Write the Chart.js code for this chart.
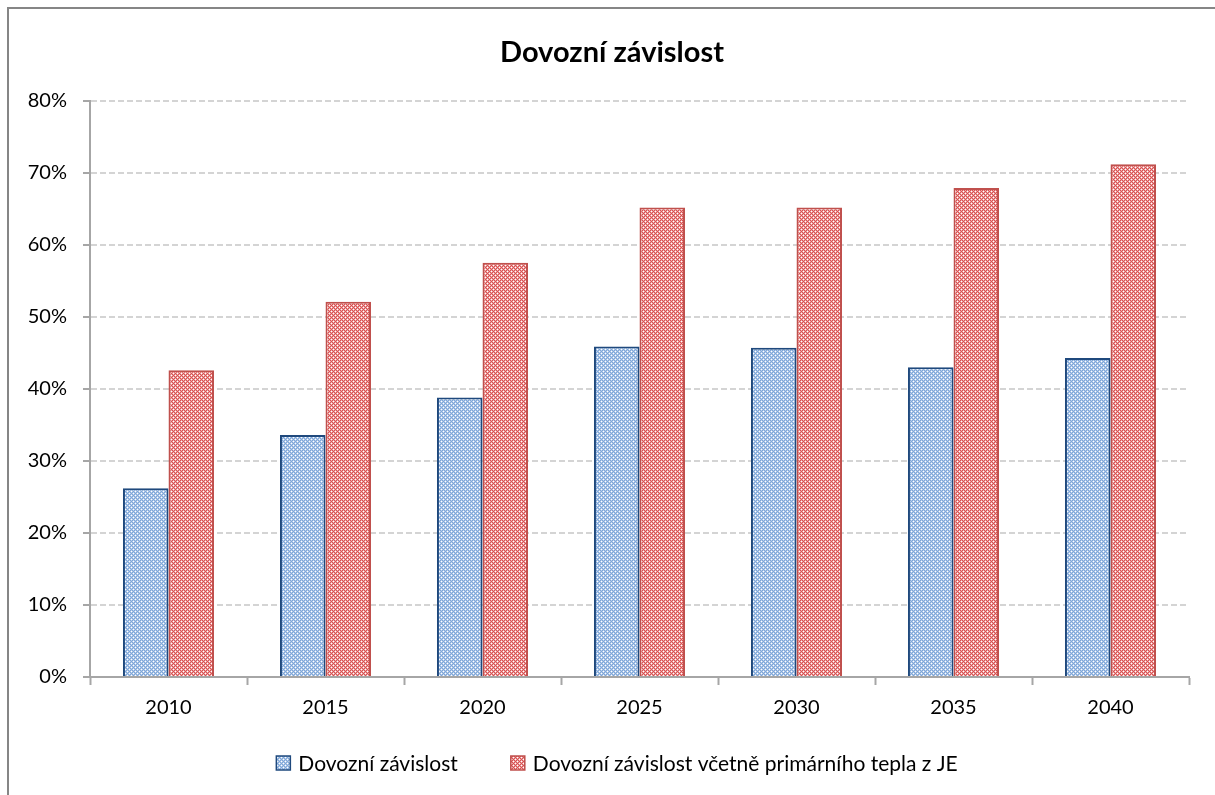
<!DOCTYPE html>
<html>
<head>
<meta charset="utf-8">
<title>Dovozní závislost</title>
<script src="https://cdn.jsdelivr.net/npm/chart.js@4/dist/chart.umd.min.js"></script>
<style>
  html, body { margin: 0; padding: 0; background: #fff; }
  #wrap { width: 1215px; height: 795px; position: relative; }
</style>
</head>
<body>
<div id="wrap"><canvas id="myChart"></canvas></div>
<script>
var years = ['2010', '2015', '2020', '2025', '2030', '2035', '2040'];
var dovozni = [26.2, 33.6, 38.8, 45.9, 45.7, 43.0, 44.3];
var dovozniJE = [42.6, 52.1, 57.5, 65.2, 65.2, 67.9, 71.2];
var seriesNames = ['Dovozní závislost', 'Dovozní závislost včetně primárního tepla z JE'];
var chartTitle = 'Dovozní závislost';
var yMax = 80;
var yStep = 10;

function makePattern(base, dot, light) {
  var c = document.createElement('canvas');
  c.width = 4;
  c.height = 4;
  var g = c.getContext('2d');
  g.fillStyle = base;
  g.fillRect(0, 0, 4, 4);
  g.fillStyle = dot;
  for (var y = 0; y < 4; y++) {
    for (var x = 0; x < 4; x++) {
      if ((x + y) % 2 === 0) g.fillRect(x, y, 1, 1);
    }
  }
  g.fillStyle = light;
  g.fillRect(1, 1, 1, 1);
  g.fillRect(3, 3, 1, 1);
  return document.getElementById('myChart').getContext('2d').createPattern(c, 'repeat');
}

// gray frame round the whole chart
var framePlugin = {
  id: 'frame',
  beforeDraw: function (chart) {
    var ctx = chart.ctx;
    ctx.save();
    ctx.strokeStyle = '#868686';
    ctx.lineWidth = 2;
    ctx.strokeRect(8, 8, 1400, 1000);
    ctx.restore();
  }
};

// legend drawn by hand so the spacing matches the original
var legendPlugin = {
  id: 'boxLegend',
  afterDraw: function (chart) {
    var ctx = chart.ctx;
    var box = 14, gapText = 8, gapItem = 53;
    ctx.save();
    ctx.font = '21px Lato';
    var widths = chart.data.datasets.map(function (ds) {
      return box + gapText + ctx.measureText(ds.label).width;
    });
    var total = widths[0] + gapItem + widths[1];
    var x = 617 - total / 2;
    var y = 763;
    chart.data.datasets.forEach(function (ds, i) {
      ctx.fillStyle = ds.backgroundColor;
      ctx.fillRect(x, y - box / 2, box, box);
      ctx.strokeStyle = ds.borderColor;
      ctx.lineWidth = 1.5;
      ctx.strokeRect(x, y - box / 2, box, box);
      ctx.fillStyle = '#000';
      ctx.textAlign = 'left';
      ctx.textBaseline = 'middle';
      ctx.fillText(ds.label, x + box + gapText, y + 1);
      x += widths[i] + gapItem;
    });
    ctx.restore();
  }
};

function drawChart() {
  Chart.defaults.font.family = 'Lato';
  Chart.defaults.color = '#000';

  const ctx = document.getElementById('myChart').getContext('2d');
  const myChart = new Chart(ctx, {
    type: 'bar',
    data: {
      labels: years,
      datasets: [{
        label: seriesNames[0],
        data: dovozni,
        backgroundColor: makePattern('#b3cbea', '#7ea6d8', '#ffffff'),
        borderColor: '#1f497d',
        borderWidth: 2
      }, {
        label: seriesNames[1],
        data: dovozniJE,
        backgroundColor: makePattern('#efa3a3', '#d65252', '#ffffff'),
        borderColor: '#c0504d',
        borderWidth: 2
      }]
    },
    options: {
      responsive: true,
      maintainAspectRatio: false,
      animation: false,
      layout: { padding: { left: 9, right: 0, top: 0, bottom: 0 } },
      datasets: { bar: { categoryPercentage: 0.58, barPercentage: 1.0 } },
      plugins: {
        legend: { display: false },
        tooltip: { enabled: false },
        title: {
          display: true,
          text: chartTitle,
          color: '#000',
          font: { size: 29, weight: 'bold' },
          padding: { top: 35, bottom: 31 }
        }
      },
      scales: {
        x: {
          afterFit: function (scale) { scale.height = 118; },
          grid: {
            display: true,
            offset: true,
            drawOnChartArea: false,
            drawTicks: true,
            tickLength: 8,
            tickColor: '#a6a6a6',
            tickWidth: 2
          },
          border: { display: true, color: '#a6a6a6', width: 2 },
          ticks: { font: { size: 20 }, padding: 11, color: '#000' }
        },
        y: {
          min: 0,
          max: yMax,
          afterFit: function (scale) { scale.width = 81; },
          grid: {
            color: '#d4d4d4',
            lineWidth: 2,
            drawTicks: true,
            tickLength: 7,
            tickColor: '#a6a6a6',
            tickWidth: 2
          },
          border: { display: true, color: '#a6a6a6', width: 2, dash: [6, 3] },
          ticks: {
            stepSize: yStep,
            padding: 16,
            font: { size: 20 },
            color: '#000',
            callback: function (v) { return v + '%'; }
          }
        },
        // empty box on the right, keeps the plot off the right edge
        spacer: {
          type: 'linear',
          position: 'right',
          display: true,
          afterFit: function (scale) { scale.width = 26; },
          grid: { display: false },
          border: { display: false },
          ticks: { display: false }
        }
      }
    },
    plugins: [framePlugin, legendPlugin]
  });
}

Promise.all([
  document.fonts.load('20px Lato'),
  document.fonts.load('bold 29px Lato')
]).then(drawChart, drawChart);
</script>
</body>
</html>
